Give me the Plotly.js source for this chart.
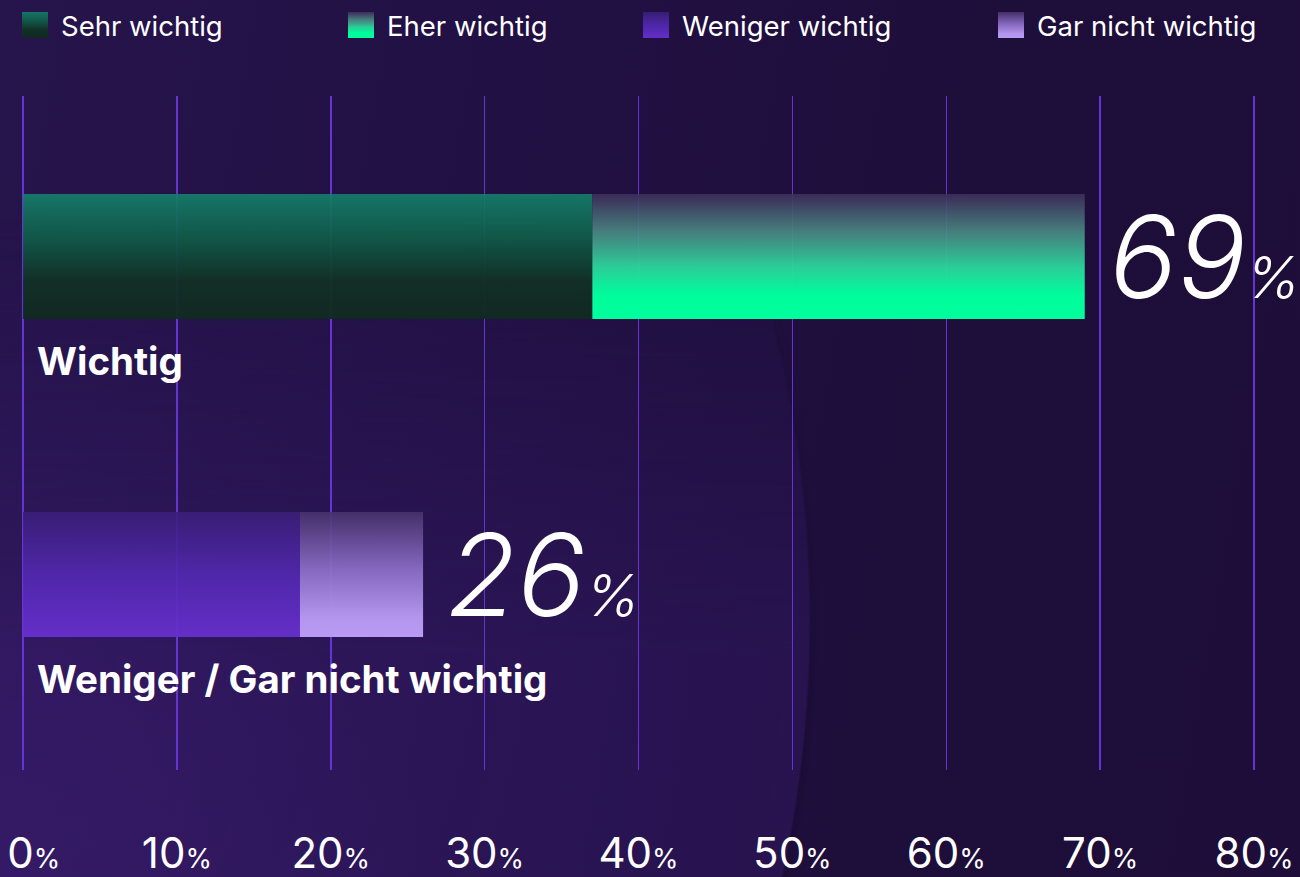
<!DOCTYPE html>
<html>
<head>
<meta charset="utf-8">
<script src="https://cdn.plot.ly/plotly-3.0.1.min.js"></script>
<style>
  html, body { margin: 0; padding: 0; }
  body {
    position: relative;
    width: 1300px; height: 877px; overflow: hidden;
    background:
      radial-gradient(ellipse 440px 320px at 0px 877px, rgba(64,31,122,0.65) 0%, rgba(64,31,122,0) 100%),
      linear-gradient(100deg, #26144c 0%, #211042 40%, #1e0e3a 70%, #1d0d38 100%);
  }
  body::before {
    content: '';
    position: absolute; left: 0; top: 0; width: 1300px; height: 877px;
    background:
      radial-gradient(ellipse 815px 1000px at 0px 620px, rgba(54,27,104,0.7) 0%, rgba(48,24,96,0.62) 70%, rgba(46,23,92,0.6) 99.2%, rgba(20,10,44,0.35) 99.5%, rgba(20,10,44,0) 100.5%);
    -webkit-mask-image: linear-gradient(to bottom, rgba(0,0,0,0) 25%, rgba(0,0,0,1) 75%);
    mask-image: linear-gradient(to bottom, rgba(0,0,0,0) 25%, rgba(0,0,0,1) 75%);
    z-index: 0;
  }
  #chart { position: relative; z-index: 1; width: 1300px; height: 877px; }
</style>
</head>
<body>
<div id="chart"></div>
<script>
// ---- data ----
const categories = ['Wichtig', 'Weniger / Gar nicht wichtig'];
const seriesNames = ['Sehr wichtig', 'Eher wichtig', 'Weniger wichtig', 'Gar nicht wichtig'];
const seriesCategory = [0, 0, 1, 1];          // which category each series belongs to
const seriesValues = [37, 32, 18, 8];           // percent
const tickValues = [0, 10, 20, 30, 40, 50, 60, 70, 80];
const tickNumbers = ['0', '10', '20', '30', '40', '50', '60', '70', '80'];

// ---- styles ----
const gradients = [
  [[0, 'rgba(16,42,32,0.95)'], [0.3, 'rgba(17,48,36,0.95)'], [0.65, 'rgba(15,92,72,0.93)'], [1, 'rgba(21,126,106,0.92)']],
  [[0, 'rgba(0,255,156,1)'], [0.2, 'rgba(0,252,156,1)'], [0.42, 'rgba(44,214,156,0.95)'], [0.7, 'rgba(74,138,132,0.9)'], [1, 'rgba(62,46,90,0.9)']],
  [[0, 'rgba(103,48,206,0.95)'], [0.5, 'rgba(82,40,176,0.92)'], [1, 'rgba(58,30,120,0.9)']],
  [[0, 'rgba(186,154,244,1)'], [0.15, 'rgba(180,150,238,1)'], [0.55, 'rgba(140,110,200,0.92)'], [1, 'rgba(72,50,108,0.9)']]
];
const barHalf = 0.1965;
const legendX = [21, 347, 642, 997];

const nCat = categories.length;
const catY = categories.map((c, i) => nCat - 1 - i);
const totals = categories.map(() => 0);

const traces = seriesNames.map((name, s) => {
  const ci = seriesCategory[s];
  const base = totals[ci];
  const end = base + seriesValues[s];
  totals[ci] = end;
  const yc = catY[ci];
  return {
    type: 'scatter',
    mode: 'none',
    name: name,
    x: [base, end, end, base, base],
    y: [yc - barHalf, yc - barHalf, yc + barHalf, yc + barHalf, yc - barHalf],
    fill: 'toself',
    fillgradient: { type: 'vertical', colorscale: gradients[s] },
    line: { width: 0 },
    hoverinfo: 'skip',
    legend: s === 0 ? 'legend' : 'legend' + (s + 1)
  };
});

const annotations = [];
categories.forEach((c, i) => {
  annotations.push({
    x: 0, y: catY[i] - 0.33, xref: 'x', yref: 'y',
    xanchor: 'left', yanchor: 'middle', xshift: 12,
    text: c, showarrow: false,
    font: { family: 'Inter, Roboto, sans-serif', size: 38.5, weight: 700, color: '#ffffff' }
  });
  annotations.push({
    x: totals[i], y: catY[i], xref: 'x', yref: 'y',
    xanchor: 'left', yanchor: 'middle', xshift: 22, yshift: 0,
    text: totals[i] + '<span style="font-size:58px">%</span>', showarrow: false,
    font: { family: 'Inter, Roboto, sans-serif', size: 114, weight: 300, style: 'italic', color: '#ffffff' }
  });
});

const legendCommon = {
  orientation: 'h', xref: 'container', yref: 'container',
  xanchor: 'left', yanchor: 'middle', y: 1 - 25 / 877,
  bgcolor: 'rgba(0,0,0,0)', borderwidth: 0,
  font: { family: 'Inter, Roboto, sans-serif', size: 27.5, color: '#ffffff' }
};
const tickText = tickNumbers.map((t, i) =>
  (i === 0 ? '<span style="font-size:38px">&nbsp;&nbsp;</span>' : '') +
  t + '<span style="font-size:27px">%</span>');

const layout = {
  width: 1300, height: 877,
  paper_bgcolor: 'rgba(0,0,0,0)', plot_bgcolor: 'rgba(0,0,0,0)',
  margin: { l: 21, r: 44, t: 96, b: 107 },
  hovermode: false,
  showlegend: true,
  xaxis: {
    range: [-0.13, 80.13], tickvals: tickValues, ticktext: tickText,
    showgrid: true, gridcolor: '#6434d4', gridwidth: 1.5,
    zeroline: false, showline: false, ticks: '',
    ticklabelstandoff: 55, ticklabeloverflow: 'allow',
    tickfont: { family: 'Inter, Roboto, sans-serif', size: 42, color: '#ffffff' },
    fixedrange: true
  },
  yaxis: {
    range: [-0.615, 1.505], showgrid: false, zeroline: false,
    showticklabels: false, showline: false, fixedrange: true
  },
  annotations: annotations
};
seriesNames.forEach((n, s) => {
  const key = s === 0 ? 'legend' : 'legend' + (s + 1);
  layout[key] = Object.assign({}, legendCommon, { x: legendX[s] / 1300 });
});

Plotly.newPlot('chart', traces, layout, { displayModeBar: false, staticPlot: true }).then(() => {
  document.querySelectorAll('.legendfill path').forEach(p => {
    p.setAttribute('d', 'M1,-13h26v26h-26z');
  });
});
</script>
</body>
</html>
